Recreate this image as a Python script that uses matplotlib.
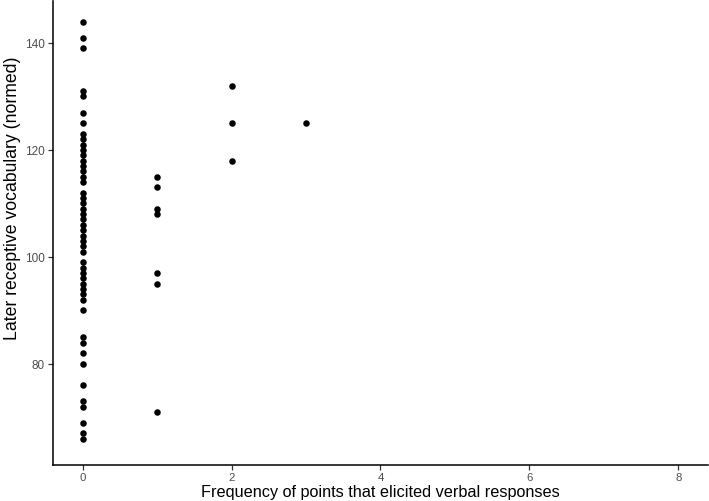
import matplotlib
matplotlib.use("Agg")
import matplotlib.pyplot as plt

# Data
freq_0 = [144, 141, 139, 131, 130, 127, 125,
          123, 122, 121, 120, 119, 118, 117, 116, 115, 114,
          112, 111, 110, 109, 108, 107, 106, 105, 104, 103, 102, 101,
          99, 98, 97, 96, 95, 94, 93, 92,
          90, 85, 84, 82, 80, 76, 73, 72, 69, 67, 66]
freq_1 = [115, 113, 109, 108, 97, 95, 71]
freq_2 = [132, 125, 118]
freq_3 = [125]

x_vals = [0] * len(freq_0) + [1] * len(freq_1) + [2] * len(freq_2) + [3] * len(freq_3)
y_vals = freq_0 + freq_1 + freq_2 + freq_3

x_ticks = [0, 2, 4, 6, 8]
y_ticks = [80, 100, 120, 140]

plt.rcParams['font.family'] = ['Liberation Sans', 'DejaVu Sans']

fig = plt.figure(figsize=(7.09, 5.02), dpi=100)
ax = fig.add_axes([53/709, 36/502, 655/709, 464/502])
ax.scatter(x_vals, y_vals, s=22, color='black', linewidths=0, zorder=3)

ax.set_xlim(-0.4, 8.4)
ax.set_ylim(61.1, 147.85)
ax.set_xticks(x_ticks)
ax.set_yticks(y_ticks)
ax.tick_params(axis='both', colors='#333333', labelcolor='#4D4D4D',
               labelsize=8.5, length=3.5, width=0.9)
ax.tick_params(axis='x', pad=1.2, labelsize=8.2)
ax.tick_params(axis='y', pad=2.5)
for side in ['top', 'right']:
    ax.spines[side].set_visible(False)
for side in ['left', 'bottom']:
    ax.spines[side].set_linewidth(1.1)
    ax.spines[side].set_color('black')

ax.set_xlabel('Frequency of points that elicited verbal responses', fontsize=11.7)
ax.set_ylabel('Later receptive vocabulary (normed)', fontsize=12.7)
ax.xaxis.set_label_coords(0.5, -0.0575)
ax.xaxis.label.set_verticalalignment('center')
ax.yaxis.set_label_coords(-0.062, 0.578)
ax.yaxis.label.set_verticalalignment('center')

fig.savefig('out.png', dpi=100)
